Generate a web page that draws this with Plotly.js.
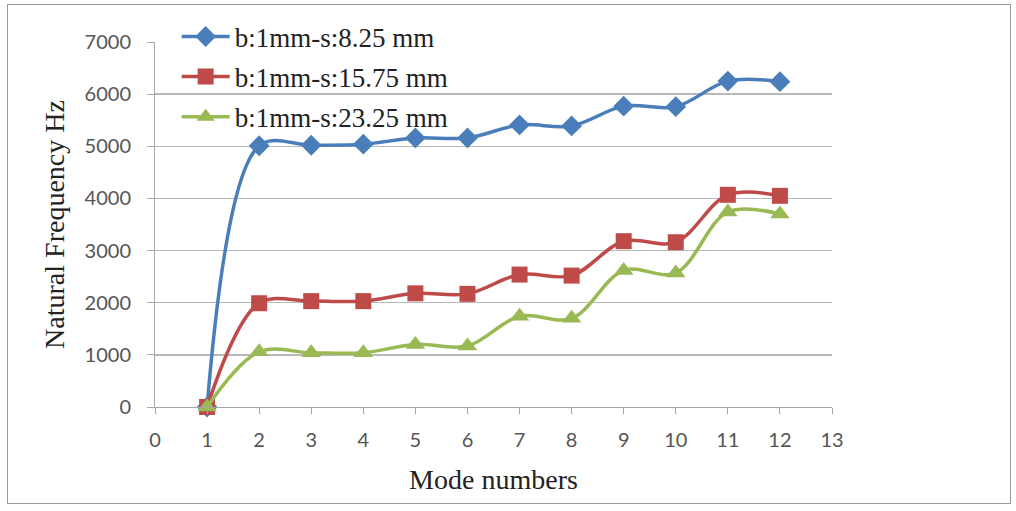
<!DOCTYPE html>
<html>
<head>
<meta charset="utf-8">
<script src="https://cdn.plot.ly/plotly-3.0.1.min.js"></script>
<style>
  html, body { margin: 0; padding: 0; background: #ffffff; }
  #wrap { position: relative; width: 1016px; height: 511px; }
  #chart { position: absolute; left: 0; top: 0; width: 1016px; height: 511px; }
  #frame { position: absolute; left: 7px; top: 4px; width: 1002px; height: 498px;
           border: 1px solid #9a9a9a; pointer-events: none; }
</style>
</head>
<body>
<div id="wrap">
  <div id="chart"></div>
  <div id="frame"></div>
</div>
<script>
// Data
const modes = [1, 2, 3, 4, 5, 6, 7, 8, 9, 10, 11, 12];
const seriesNames = ["b:1mm-s:8.25 mm", "b:1mm-s:15.75 mm", "b:1mm-s:23.25 mm"];
const freqS825  = [0, 5010, 5020, 5040, 5160, 5160, 5410, 5390, 5770, 5760, 6250, 6240];
const freqS1575 = [0, 1990, 2030, 2030, 2180, 2170, 2540, 2520, 3180, 3160, 4070, 4050];
const freqS2325 = [0, 1060, 1040, 1040, 1200, 1170, 1740, 1700, 2620, 2570, 3740, 3700];
const xTicks = [0,1,2,3,4,5,6,7,8,9,10,11,12,13];
const yTicks = [0,1000,2000,3000,4000,5000,6000,7000];

const colors = ["#4A7EBB", "#BE4B48", "#98B954"];
const symbols = ["diamond", "square", "triangle-up"];
const sizes = [16, 16, 17];
const ys = [freqS825, freqS1575, freqS2325];

const traces = ys.map((y, i) => ({
  x: modes, y: y, name: seriesNames[i], type: "scatter", mode: "lines+markers",
  legendgroup: "g" + i,
  line: { color: colors[i], width: 3.5, shape: "spline", smoothing: 1 },
  marker: { color: colors[i], symbol: symbols[i], size: sizes[i] },
  cliponaxis: false
}));

const layout = {
  width: 1016, height: 511,
  margin: { l: 155, r: 184, t: 42, b: 104 },
  paper_bgcolor: "rgba(0,0,0,0)",
  plot_bgcolor: "#ffffff",
  showlegend: true,
  legend: {
    x: 0.032, y: 1.081, xanchor: "left", yanchor: "top",
    bgcolor: "rgba(255,255,255,0)",
    traceorder: "grouped", tracegroupgap: 2,
    font: { family: "Liberation Serif, Times New Roman, serif", size: 27, color: "#222222" },
    itemwidth: 48
  },
  xaxis: {
    automargin: false,
    range: [0, 13], tickvals: xTicks, ticktext: xTicks.map(String),
    showgrid: false, zeroline: false,
    showline: true, linecolor: "#a6a6a6", linewidth: 1,
    ticks: "outside", ticklen: 6, tickcolor: "#a6a6a6",
    ticklabelstandoff: 9,
    tickfont: { family: "Lato, Open Sans, sans-serif", size: 20, color: "#555555" },
    title: { text: "Mode numbers", standoff: 19,
             font: { family: "Liberation Serif, Times New Roman, serif", size: 28, color: "#222222" } }
  },
  yaxis: {
    automargin: false,
    range: [0, 7000], tickvals: yTicks, ticktext: yTicks.map(String),
    showgrid: true, gridcolor: "#b8b8b8", gridwidth: 1.5,
    zeroline: false,
    showline: true, linecolor: "#a6a6a6", linewidth: 1,
    ticks: "outside", ticklen: 7, tickcolor: "#a6a6a6",
    ticklabelstandoff: 12,
    tickfont: { family: "Lato, Open Sans, sans-serif", size: 20, color: "#555555" },
    title: { text: "Natural Frequency Hz", standoff: 11,
             font: { family: "Liberation Serif, Times New Roman, serif", size: 28, color: "#222222" } }
  }
};

Plotly.newPlot("chart", traces, layout, { displayModeBar: false, staticPlot: true });
</script>
</body>
</html>
